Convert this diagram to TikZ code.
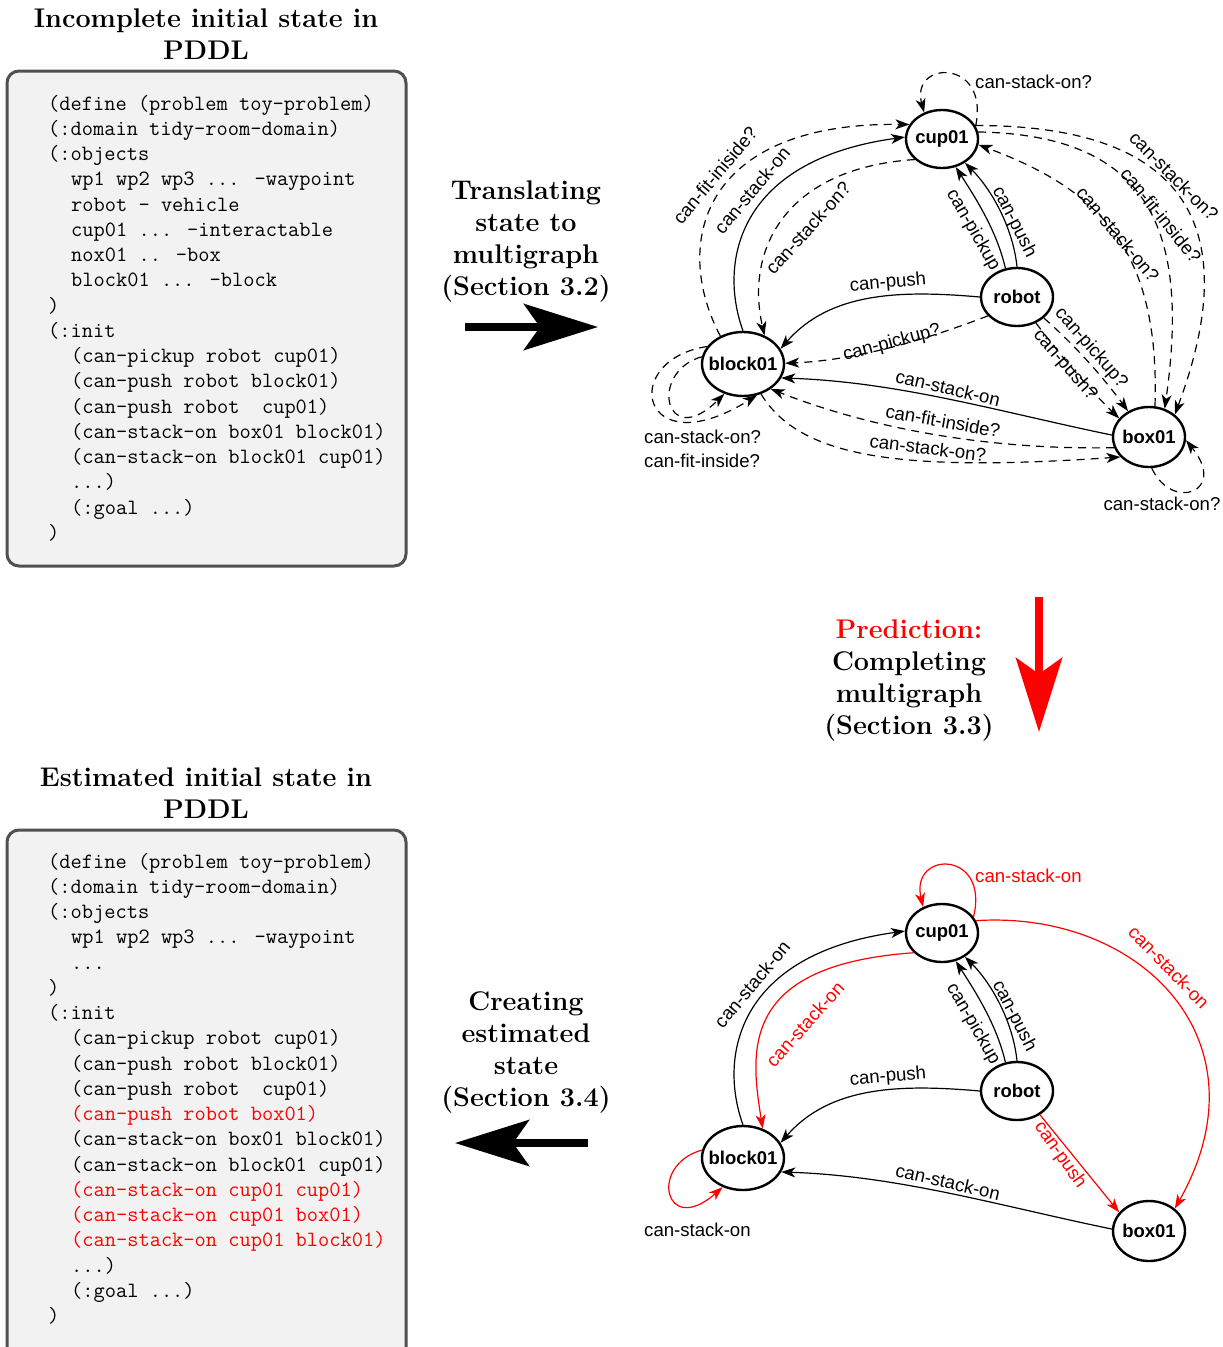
\documentclass[tikz,border=0pt]{standalone}
\usepackage{fontspec}
\newfontfamily\gfont{Liberation Sans}
\usetikzlibrary{arrows.meta,shapes.geometric}
\definecolor{boxgray}{HTML}{F2F2F2}
\definecolor{bordergray}{HTML}{505050}
\definecolor{pred}{HTML}{FF0000}
\newcommand\codefont{\fontsize{21.8}{25}\selectfont\ttfamily}
\newcommand\headfont{\fontsize{27}{32}\selectfont\bfseries}
\begin{document}
\begin{tikzpicture}[x=1pt,y=-1pt,
  gnode/.style={draw, ellipse, line width=2.4pt, inner sep=0pt, font=\gfont\bfseries\fontsize{18.5}{20}\selectfont},
  sedge/.style={line width=1.2pt, -{Stealth[length=14pt,width=10pt,inset=4pt]}},
  dedge/.style={sedge, dash pattern=on 8pt off 6pt},
  redge/.style={sedge, draw=pred},
  elab/.style={font=\gfont\fontsize{18.6}{20}\selectfont, inner sep=1pt},
  rlab/.style={elab, text=pred},
  codeln/.style={font=\codefont, anchor=base west, inner sep=0pt},
  codebox/.style={draw=bordergray, fill=boxgray, line width=3pt, rounded corners=12pt},
  headtxt/.style={font=\headfont, align=center, inner sep=0pt},
  bigarrow/.style={line width=8pt, -{Stealth[length=74pt,width=46pt,inset=16pt]}}
]
\useasboundingbox (0,0) rectangle (1223,1347);

% ---------- titles ----------
\node[headtxt] (title1) at (206,34) {Incomplete initial state in\\PDDL};
\node[headtxt] (title2) at (206,793) {Estimated initial state in\\PDDL};

% ---------- code box top ----------
\draw[codebox] (7,71) rectangle (406,566);
\node[codeln] (a1) at (48,110) {(define (problem toy-problem)};
\node[codeln] (a2) at (48,135.25) {(:domain tidy-room-domain)};
\node[codeln] (a3) at (48,160.5) {(:objects};
\node[codeln] (a4) at (71,185.75) {wp1 wp2 wp3 ... -waypoint};
\node[codeln] (a5) at (71,211) {robot - vehicle};
\node[codeln] (a6) at (71,236.25) {cup01 ... -interactable};
\node[codeln] (a7) at (71,261.5) {nox01 .. -box};
\node[codeln] (a8) at (71,286.75) {block01 ... -block};
\node[codeln] (a9) at (48,312) {)};
\node[codeln] (a10) at (48,337.25) {(:init};
\node[codeln] (a11) at (71,362.5) {(can-pickup robot cup01)};
\node[codeln] (a12) at (71,387.75) {(can-push robot block01)};
\node[codeln] (a13) at (71,413) {(can-push robot\ \ cup01)};
\node[codeln] (a14) at (71,438.25) {(can-stack-on box01 block01)};
\node[codeln] (a15) at (71,463.5) {(can-stack-on block01 cup01)};
\node[codeln] (a16) at (71,488.75) {...)};
\node[codeln] (a17) at (71,514) {(:goal ...)};
\node[codeln] (a18) at (48,539.25) {)};

% ---------- code box bottom ----------
\draw[codebox] (7,830) rectangle (406,1365);
\node[codeln] (b1) at (48,868) {(define (problem toy-problem)};
\node[codeln] (b2) at (48,893.25) {(:domain tidy-room-domain)};
\node[codeln] (b3) at (48,918.5) {(:objects};
\node[codeln] (b4) at (71,943.75) {wp1 wp2 wp3 ... -waypoint};
\node[codeln] (b5) at (71,969) {...};
\node[codeln] (b6) at (48,994.25) {)};
\node[codeln] (b7) at (48,1019.5) {(:init};
\node[codeln] (b8) at (71,1044.75) {(can-pickup robot cup01)};
\node[codeln] (b9) at (71,1070) {(can-push robot block01)};
\node[codeln] (b10) at (71,1095.25) {(can-push robot\ \ cup01)};
\node[codeln,text=pred] (b11) at (71,1120.5) {(can-push robot box01)};
\node[codeln] (b12) at (71,1145.75) {(can-stack-on box01 block01)};
\node[codeln] (b13) at (71,1171) {(can-stack-on block01 cup01)};
\node[codeln,text=pred] (b14) at (71,1196.25) {(can-stack-on cup01 cup01)};
\node[codeln,text=pred] (b15) at (71,1221.5) {(can-stack-on cup01 box01)};
\node[codeln,text=pred] (b16) at (71,1246.75) {(can-stack-on cup01 block01)};
\node[codeln] (b17) at (71,1272) {...)};
\node[codeln] (b18) at (71,1297.25) {(:goal ...)};
\node[codeln] (b19) at (48,1322.5) {)};

% ---------- middle texts and big arrows ----------
\node[headtxt] (mt1) at (526,242) {Translating\\state to\\multigraph\\(Section 3.2)};
\node[headtxt] (mt2) at (909,681) {\textcolor{pred}{Prediction:}\\Completing\\multigraph\\(Section 3.3)};
\node[headtxt] (mt3) at (526,1052) {Creating\\estimated\\state\\(Section 3.4)};
\coordinate (ar1s) at (465,327); \coordinate (ar1e) at (598,327);
\draw[bigarrow] (ar1s) -- (ar1e);
\coordinate (ar2s) at (1039,597); \coordinate (ar2e) at (1039,732);
\draw[bigarrow, draw=pred, fill=pred] (ar2s) -- (ar2e);
\coordinate (ar3s) at (588,1143); \coordinate (ar3e) at (455,1143);
\draw[bigarrow] (ar3s) -- (ar3e);

% ---------- top graph ----------
\node[gnode, minimum width=72pt, minimum height=58pt] (cup) at (942,139) {\makebox[0pt]{cup01}};
\node[gnode, minimum width=72pt, minimum height=58pt] (rob) at (1017,297) {\makebox[0pt]{robot}};
\node[gnode, minimum width=82pt, minimum height=64pt] (blk) at (743,364) {\makebox[0pt]{block01}};
\node[gnode, minimum width=72pt, minimum height=60pt] (box) at (1149,437) {\makebox[0pt]{box01}};

\draw[sedge] (blk.90) .. controls (718,262) and (738,160) .. (cup.177);
\draw[dedge] (blk.129) .. controls (672,245) and (700,122) .. (cup.156);
\draw[dedge] (cup.217) .. controls (785,168) and (745,250) .. (blk.53);
\draw[dedge] (cup.21) .. controls (990,58) and (910,60) .. (cup.124);
\draw[sedge] (rob.112) .. controls (997,232) and (977,200) .. (cup.296);
\draw[sedge] (rob.90) .. controls (1013,228) and (992,190) .. (cup.314);
\draw[sedge] (rob.180) .. controls (900,290) and (830,292) .. (blk.22);
\draw[dedge] (rob.213) .. controls (930,338) and (860,360) .. (blk.1);
\draw[sedge] (box.177) .. controls (1000,412) and (900,382) .. (blk.340);
\draw[dedge] (box.197) .. controls (1000,450) and (880,432) .. (blk.318);
\draw[dedge] (blk.301) .. controls (800,458) and (900,472) .. (box.215);
\draw[dedge] (blk.154) .. controls (618,360) and (640,468) .. (blk.294);
\draw[dedge] (blk.170) .. controls (648,372) and (665,452) .. (blk.238);
\draw[dedge] (rob.322) .. controls (1080,350) and (1105,380) .. (box.129);
\draw[dedge] (rob.306) .. controls (1060,355) and (1090,390) .. (box.148);
\draw[dedge] (cup.22) .. controls (1200,125) and (1240,240) .. (box.41);
\draw[dedge] (cup.11) .. controls (1150,135) and (1190,230) .. (box.61);
\draw[dedge] (box.79) .. controls (1160,250) and (1100,190) .. (cup.351);
\draw[dedge] (box.275) .. controls (1172,512) and (1228,492) .. (box.355);

\node[elab, rotate=50] (l1) at (752,190) {can-stack-on};
\node[elab, rotate=50] (l2) at (715,175) {can-fit-iniside?};
\node[elab, rotate=48] (l3) at (808,228) {can-stack-on?};
\node[elab, anchor=west] (l4) at (974,82) {can-stack-on?};
\node[elab, rotate=-60] (l5) at (973,230) {can-pickup};
\node[elab, rotate=-63] (l6) at (1014,222) {can-push};
\node[elab, rotate=5] (l7) at (888,283) {can-push};
\node[elab, rotate=15] (l8) at (892,343) {can-pickup?};
\node[elab, rotate=-13] (l9) at (948,388) {can-stack-on};
\node[elab, rotate=-10] (l10) at (943,421) {can-fit-inside?};
\node[elab, rotate=-7] (l11) at (928,448) {can-stack-on?};
\node[elab, anchor=west] (l12) at (643,437) {can-stack-on?};
\node[elab, anchor=west] (l13) at (643,461) {can-fit-inside?};
\node[elab, rotate=-49] (l14) at (1091,348) {can-pickup?};
\node[elab, rotate=-49] (l15) at (1065,365) {can-push?};
\node[elab, rotate=-45] (l16) at (1174,176) {can-stack-on?};
\node[elab, rotate=-51] (l17) at (1161,215) {can-fit-inside?};
\node[elab, rotate=-50] (l18) at (1118,234) {can-stack-on?};
\node[elab] (l19) at (1162,504) {can-stack-on?};

% ---------- bottom graph ----------
\node[gnode, minimum width=72pt, minimum height=58pt] (cup2) at (942,933) {\makebox[0pt]{cup01}};
\node[gnode, minimum width=72pt, minimum height=58pt] (rob2) at (1017,1091) {\makebox[0pt]{robot}};
\node[gnode, minimum width=82pt, minimum height=64pt] (blk2) at (743,1158) {\makebox[0pt]{block01}};
\node[gnode, minimum width=72pt, minimum height=60pt] (box2) at (1149,1231) {\makebox[0pt]{box01}};

\draw[sedge] (blk2.90) .. controls (718,1056) and (738,954) .. (cup2.177);
\draw[redge] (cup2.215) .. controls (740,965) and (750,1050) .. (blk2.56);
\draw[redge] (cup2.27) .. controls (990,850) and (910,850) .. (cup2.126);
\draw[redge] (cup2.20) .. controls (1140,910) and (1270,1040) .. (box2.41);
\draw[sedge] (rob2.112) .. controls (997,1026) and (977,994) .. (cup2.296);
\draw[sedge] (rob2.90) .. controls (1013,1022) and (992,984) .. (cup2.314);
\draw[sedge] (rob2.180) .. controls (900,1084) and (830,1086) .. (blk2.22);
\draw[redge] (rob2.314) -- (box2.148);
\draw[sedge] (box2.177) .. controls (1000,1206) and (900,1176) .. (blk2.340);
\draw[redge] (blk2.169) .. controls (648,1165) and (665,1238) .. (blk2.235);

\node[elab, rotate=50] (m1) at (752,984) {can-stack-on};
\node[rlab, rotate=48] (m2) at (805,1024) {can-stack-on};
\node[rlab, anchor=west] (m3) at (974,876) {can-stack-on};
\node[rlab, rotate=-46] (m4) at (1169,967) {can-stack-on};
\node[elab, rotate=-60] (m5) at (973,1024) {can-pickup};
\node[elab, rotate=-63] (m6) at (1014,1016) {can-push};
\node[elab, rotate=5] (m7) at (888,1077) {can-push};
\node[rlab, rotate=-55] (m8) at (1060,1155) {can-push};
\node[elab, rotate=-13] (m9) at (948,1182) {can-stack-on};
\node[elab, anchor=west] (m10) at (643,1230) {can-stack-on};
\end{tikzpicture}
\end{document}
